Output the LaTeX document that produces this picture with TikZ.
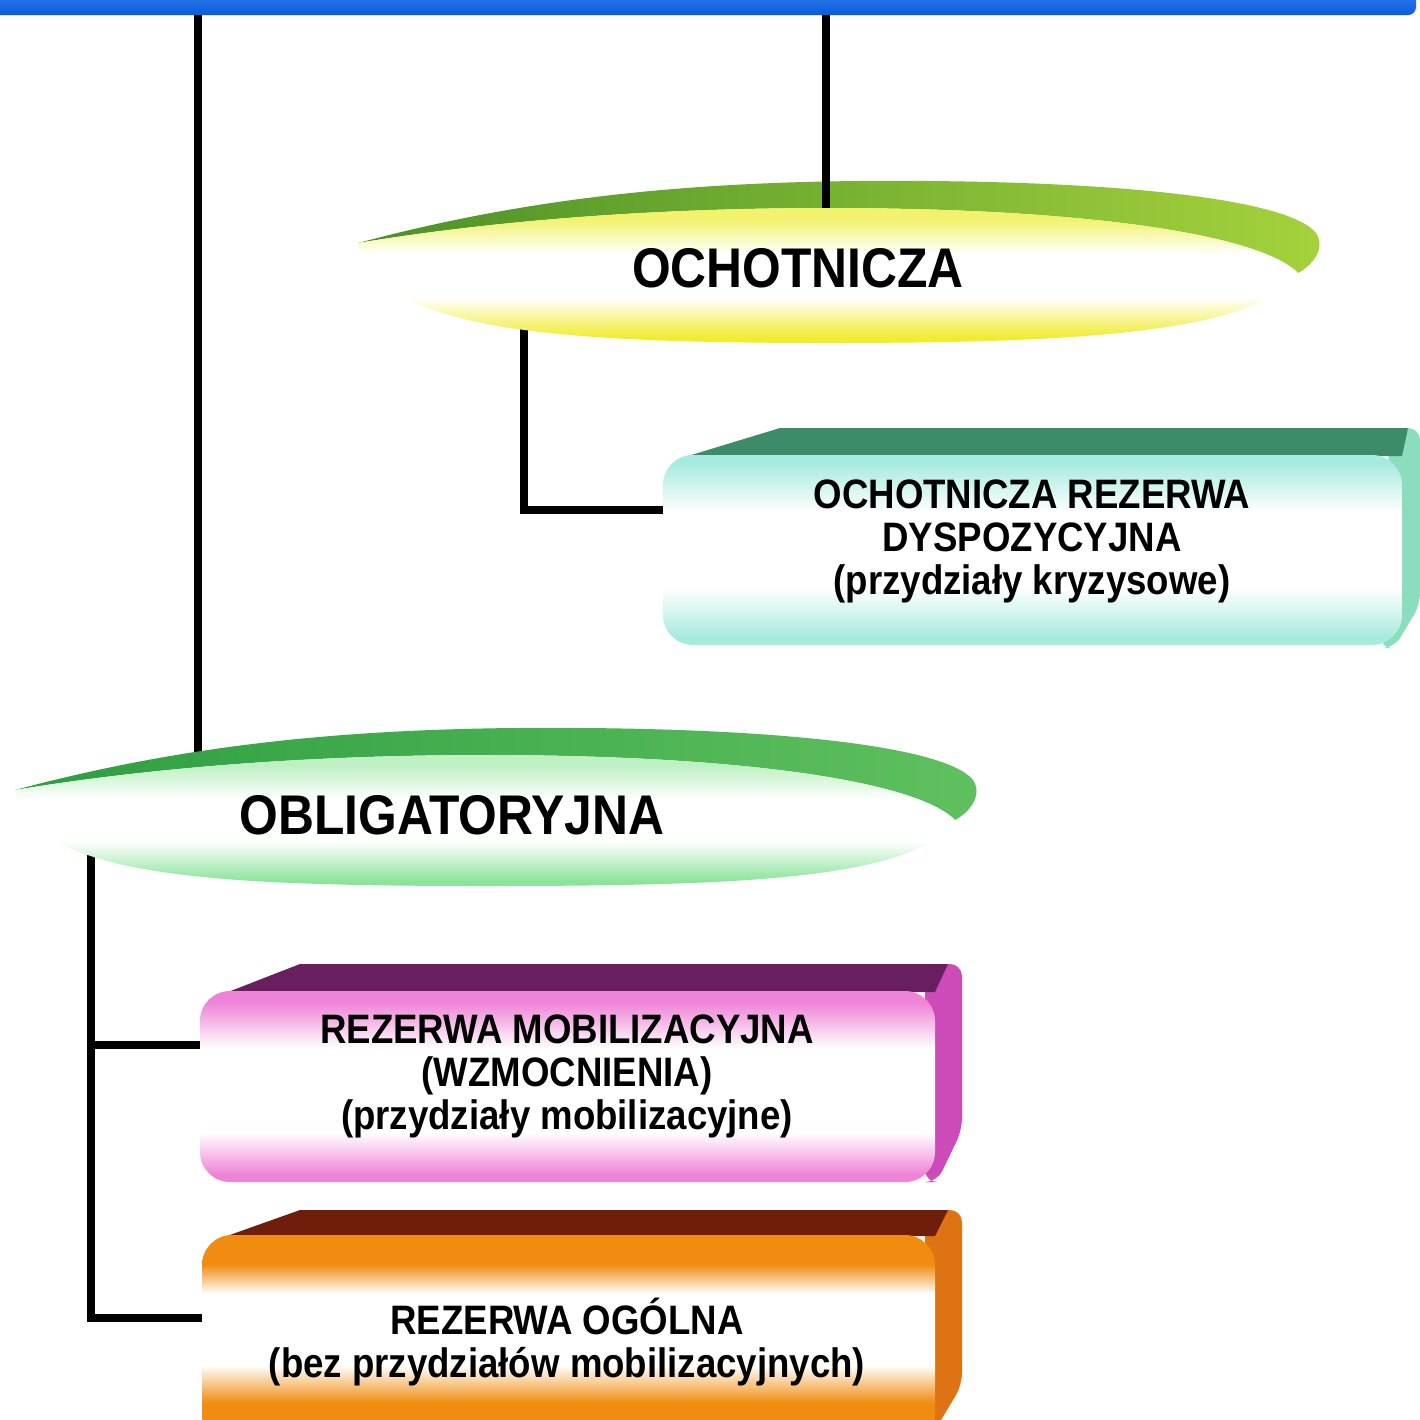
\documentclass[tikz,border=0pt]{standalone}
\usepackage{fontspec}
\setmainfont{Liberation Sans}[FakeStretch=0.89]
\usetikzlibrary{positioning}
\definecolor{ochyel}{RGB}{240,236,50}
\definecolor{ochyellt}{RGB}{242,242,110}
\definecolor{oblgrn}{RGB}{140,228,155}
\definecolor{oblgrnlt}{RGB}{190,240,195}
\definecolor{tealc}{RGB}{165,235,222}
\definecolor{pinkc}{RGB}{238,132,215}
\definecolor{orangec}{RGB}{240,140,15}
% vertical shadings: 0bp is the bottom, the path spans 25bp to 75bp
\pgfdeclareverticalshading{ochsh}{100bp}{color(0bp)=(ochyel); color(27bp)=(ochyel); color(42bp)=(white); color(58bp)=(white); color(71bp)=(ochyellt); color(100bp)=(ochyellt)}
\pgfdeclareverticalshading{oblsh}{100bp}{color(0bp)=(oblgrn); color(27bp)=(oblgrn); color(42bp)=(white); color(58bp)=(white); color(71bp)=(oblgrnlt); color(100bp)=(oblgrnlt)}
\pgfdeclareverticalshading{tealsh}{100bp}{color(0bp)=(tealc); color(27bp)=(tealc); color(40bp)=(white); color(60bp)=(white); color(73bp)=(tealc); color(100bp)=(tealc)}
\pgfdeclareverticalshading{pinksh}{100bp}{color(0bp)=(pinkc); color(27bp)=(pinkc); color(38bp)=(white); color(60bp)=(white); color(72bp)=(pinkc); color(100bp)=(pinkc)}
\pgfdeclareverticalshading{orangesh}{100bp}{color(0bp)=(orangec); color(35bp)=(orangec); color(44bp)=(white); color(61bp)=(white); color(68bp)=(orangec); color(100bp)=(orangec)}
\tikzset{
    link/.style={line width=2pt, black}, % the black connector lines
    title/.style={font=\fontsize{15.9}{18}\selectfont\bfseries},
    boxtext/.style={font=\fontsize{11.7}{12.2}\selectfont\bfseries, align=center},
    barfill/.style={top color={rgb,255:red,70;green,145;blue,240}, bottom color={rgb,255:red,10;green,90;blue,222}},
    rimO/.style={left color={rgb,255:red,75;green,145;blue,40}, right color={rgb,255:red,165;green,210;blue,60}},
    faceO/.style={shading=ochsh},
    rimB/.style={left color={rgb,255:red,45;green,158;blue,65}, right color={rgb,255:red,95;green,192;blue,95}},
    faceB/.style={shading=oblsh},
    tealband/.style={fill={rgb,255:red,60;green,140;blue,105}},
    tealside/.style={fill={rgb,255:red,140;green,220;blue,190}},
    tealface/.style={shading=tealsh},
    pinkband/.style={fill={rgb,255:red,105;green,30;blue,95}},
    pinkside/.style={fill={rgb,255:red,205;green,75;blue,185}},
    pinkface/.style={shading=pinksh},
    orangeband/.style={fill={rgb,255:red,110;green,30;blue,10}},
    orangeside/.style={fill={rgb,255:red,222;green,115;blue,20}},
    orangeface/.style={shading=orangesh},
}

\begin{document}
\begin{tikzpicture}[x=0.01cm, y=-0.01cm]
\clip (0,0) rectangle (1420,1420);
\fill[white] (0,0) rectangle (1420,1420);

% points where the lines meet the shapes
\coordinate (barL) at (198,15);
\coordinate (barM) at (826,15);
\coordinate (oblTop) at (198,760);
\coordinate (ochTop) at (826,215);
\coordinate (ochBot) at (524,300);
\coordinate (ordL) at (663,510);
\coordinate (oblBot) at (91,840);
\coordinate (rmobL) at (202,1045);
\coordinate (rogL) at (203,1318);

% top bar
\shade[barfill, rounded corners=0.08cm] (-20,-20) rectangle (1416,15);

% lines lying under the shapes
\draw[link] (barL) -- (oblTop);
\draw[link] (ochBot) |- (ordL);
\draw[link] (oblBot) |- (rogL);
\draw[link] (oblBot |- rmobL) -- (rmobL);

% OCHOTNICZA disc
\begin{scope}[shift={(358,243)}]
  \shade[rimO] (0,0) .. controls (150,-40) and (300,-60) .. (500,-62) .. controls (750,-64) and (930,-45) .. (958,-10)
    .. controls (968,5) and (955,22) .. (940,30) .. controls (900,-10) and (720,-35) .. (470,-35)
    .. controls (280,-35) and (120,-20) .. (0,0) -- cycle;
\end{scope}
\draw[link] (barM) -- (ochTop);
\begin{scope}[shift={(358,243)}]
  \shade[faceO] (0,0) .. controls (120,-20) and (280,-35) .. (470,-35) .. controls (720,-35) and (900,-10) .. (940,30)
    .. controls (900,90) and (720,100) .. (470,100) .. controls (180,100) and (20,85) .. (0,0) -- cycle;
\end{scope}
\node[title] (och) at (798,268) {OCHOTNICZA};

% OBLIGATORYJNA disc
\begin{scope}[shift={(15,790)}]
  \shade[rimB] (0,0) .. controls (150,-40) and (300,-60) .. (500,-62) .. controls (750,-64) and (930,-45) .. (958,-10)
    .. controls (968,5) and (955,22) .. (940,30) .. controls (900,-10) and (720,-35) .. (470,-35)
    .. controls (280,-35) and (120,-20) .. (0,0) -- cycle;
  \shade[faceB] (0,0) .. controls (120,-20) and (280,-35) .. (470,-35) .. controls (720,-35) and (900,-10) .. (940,30)
    .. controls (900,90) and (720,96) .. (470,96) .. controls (180,96) and (20,85) .. (0,0) -- cycle;
\end{scope}
\node[title] (obl) at (452,815) {OBLIGATORYJNA};

% box: ochotnicza rezerwa
\fill[tealside, rounded corners=0.12cm] (1390,428) -- (1420,428) -- (1420,605) -- (1394,648) -- (1380,648) -- cycle;
\fill[tealband] (688,456) -- (780,428) -- (1408,428) -- (1402,456) -- cycle;
\shade[tealface, rounded corners=0.3cm] (663,455) rectangle (1402,645);
\node[boxtext] (ord) at (1032,541) {OCHOTNICZA REZERWA\\DYSPOZYCYJNA\\(przydziały kryzysowe)};

% box: rezerwa mobilizacyjna
\fill[pinkside, rounded corners=0.12cm] (925,964) -- (962,964) -- (962,1130) -- (937,1182) -- (925,1182) -- cycle;
\fill[pinkband] (228,992) -- (300,964) -- (948,964) -- (935,992) -- cycle;
\shade[pinkface, rounded corners=0.3cm] (200,991) rectangle (935,1182);
\node[boxtext] (rmob) at (567,1076) {REZERWA MOBILIZACYJNA\\(WZMOCNIENIA)\\(przydziały mobilizacyjne)};

% box: rezerwa ogolna
\fill[orangeside, rounded corners=0.12cm] (925,1210) -- (962,1210) -- (962,1385) -- (935,1430) -- (925,1430) -- cycle;
\fill[orangeband] (227,1236) -- (300,1210) -- (948,1210) -- (935,1236) -- cycle;
\shade[orangeface, rounded corners=0.3cm] (202,1235) rectangle (935,1445);
\node[boxtext] (rog) at (567,1342) {REZERWA OGÓLNA\\(bez przydziałów mobilizacyjnych)};
\end{tikzpicture}
\end{document}
